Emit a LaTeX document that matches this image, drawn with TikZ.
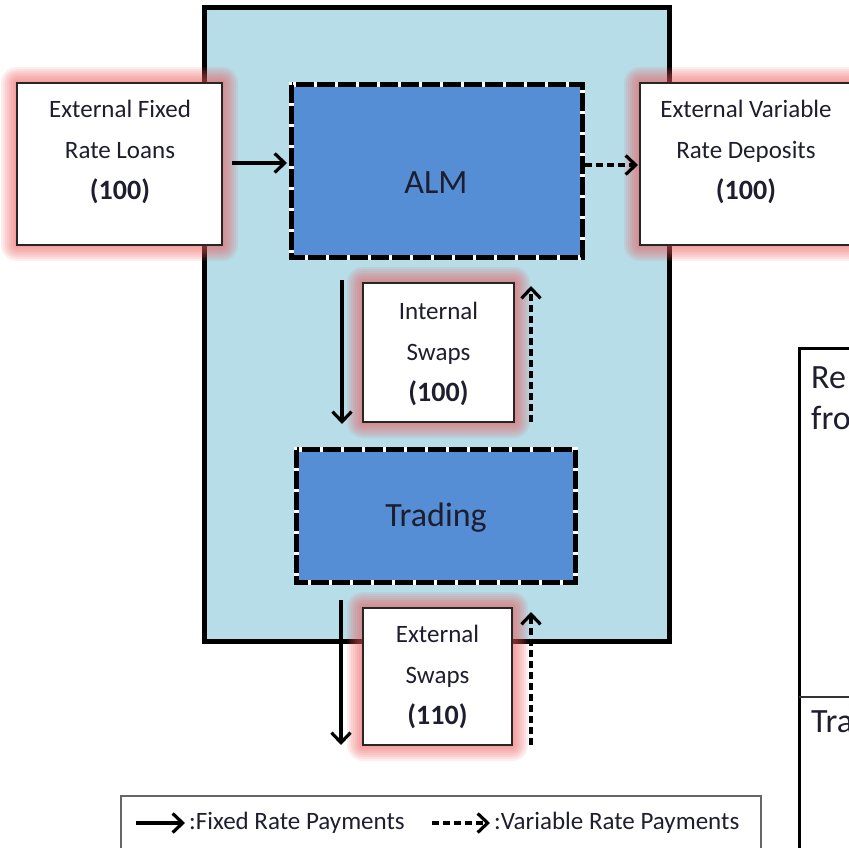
\documentclass[tikz,border=0pt]{standalone}
\usepackage{fontspec}
\setmainfont{Carlito}
\usetikzlibrary{arrows.meta}
\definecolor{panel}{HTML}{B7DDE8}
\definecolor{unitblue}{HTML}{558ED5}
\definecolor{glowred}{rgb}{0.93,0.35,0.35}
\definecolor{txt}{HTML}{1E1E2E}

\tikzset{
  extbox/.style={draw=black!85, line width=1.3pt, fill=white, inner sep=0pt},
  boxtext/.style={text=txt, font=\fontsize{25}{41}\selectfont, align=center, inner sep=0pt},
  unitbox/.style={fill=unitblue, inner sep=0pt},
  unittext/.style={text=txt, font=\fontsize{34}{40}\selectfont, inner sep=0pt},
  unitedge/.style={draw=white, line width=5pt},
  unitdash/.style={draw=black, line width=5pt, dash pattern=on 18pt off 3pt},
  fixedflow/.style={line width=3.2pt,
    -{Straight Barb[length=10pt,width=19pt,line width=3.2pt]}},
  varflow/.style={fixedflow, dash pattern=on 7pt off 4pt},
  legendtext/.style={text=txt, font=\fontsize{25}{30}\selectfont, anchor=west, inner sep=0pt},
  tabletext/.style={text=txt, font=\fontsize{34}{39}\selectfont, anchor=west, inner sep=0pt},
}

% soft pink halo around a box given by its corners
\newcommand{\halo}[4]{%
  \foreach \d in {2,4,...,16}{%
    \fill[glowred, opacity=0.1, rounded corners=\d pt]
      (#1-\d,#2-\d) rectangle (#3+\d,#4+\d);}}

\newcommand{\amount}[1]{{\fontsize{28}{41}\selectfont\bfseries #1}}

\begin{document}
\begin{tikzpicture}[x=1pt,y=-1pt]
\useasboundingbox (0,0) rectangle (849,848);
\clip (0,0) rectangle (849,848);

% bank panel
\node[draw=black, line width=5pt, fill=panel, minimum width=465pt, minimum height=633pt,
      inner sep=0pt] (bank) at (436.5,324.5) {};

% halos
\halo{17}{83}{222}{245}
\halo{640}{83}{870}{245}
\halo{363}{283}{514}{422}
\halo{363}{608}{512}{745}

% external counterparties
\node[extbox, minimum width=205pt, minimum height=162pt] (loans) at (119.5,164) {};
\node[boxtext] (loanstext) at (120,152) {External Fixed\\Rate Loans\\\amount{(100)}};
\node[extbox, minimum width=230pt, minimum height=162pt] (deposits) at (755,164) {};
\node[boxtext] (depositstext) at (746,152) {External Variable\\Rate Deposits\\\amount{(100)}};
\node[extbox, minimum width=151pt, minimum height=139pt] (intswap) at (438.5,352.5) {};
\node[boxtext] (intswaptext) at (438.5,354) {Internal\\Swaps\\\amount{(100)}};
\node[extbox, minimum width=149pt, minimum height=137pt] (extswap) at (437.5,676.5) {};
\node[boxtext] (extswaptext) at (437.5,677) {External\\Swaps\\\amount{(110)}};

% business units
\node[unitbox, minimum width=290pt, minimum height=172pt] (alm) at (437,171) {};
\draw[unitedge] (alm.north west) rectangle (alm.south east);
\draw[unitdash] (alm.north west) rectangle (alm.south east);
\node[unittext] (almtext) at (436,183) {ALM};
\node[unitbox, minimum width=278pt, minimum height=132pt] (trading) at (436,516) {};
\draw[unitedge] (trading.north west) rectangle (trading.south east);
\draw[unitdash] (trading.north west) rectangle (trading.south east);
\node[unittext] (tradingtext) at (436,518) {Trading};

% payment flows
\coordinate (a1) at (232,163);
\coordinate (a2) at (287,163);
\draw[fixedflow] (a1) -- (a2);
\coordinate (b1) at (585,165);
\coordinate (b2) at (638,165);
\draw[varflow] (b1) -- (b2);

\coordinate (c1) at (342,280);
\coordinate (c2) at (342,424);
\draw[fixedflow] (c1) -- (c2);
\coordinate (d1) at (531,422);
\coordinate (d2) at (531,286);
\draw[varflow] (d1) -- (d2);

\coordinate (e1) at (341,600);
\coordinate (e2) at (341,745);
\draw[fixedflow] (e1) -- (e2);
\coordinate (f1) at (531,745);
\coordinate (f2) at (531,612);
\draw[varflow] (f1) -- (f2);

% legend
\node[draw=black!60, line width=1.3pt, minimum width=640pt, minimum height=70pt,
      inner sep=0pt] (legend) at (441,831) {};
\coordinate (g1) at (136,823);
\coordinate (g2) at (185,823);
\draw[fixedflow] (g1) -- (g2);
\node[legendtext] (fixedlbl) at (189,823) {:Fixed Rate Payments};
\coordinate (h1) at (432,823);
\coordinate (h2) at (490,823);
\draw[varflow] (h1) -- (h2);
\node[legendtext] (varlbl) at (494,823) {:Variable Rate Payments};

% side table
\coordinate (t1) at (799,860);
\coordinate (t2) at (799,348);
\coordinate (t3) at (860,348);
\draw[line width=3pt] (t1) -- (t2) -- (t3);
\coordinate (t4) at (799,697);
\coordinate (t5) at (860,697);
\draw[line width=1.3pt, black!80] (t4) -- (t5);
\node[tabletext] (re) at (811,378) {Re};
\node[tabletext] (fro) at (811,418) {fro};
\node[tabletext] (tra) at (811,722) {Tra};
\end{tikzpicture}
\end{document}
